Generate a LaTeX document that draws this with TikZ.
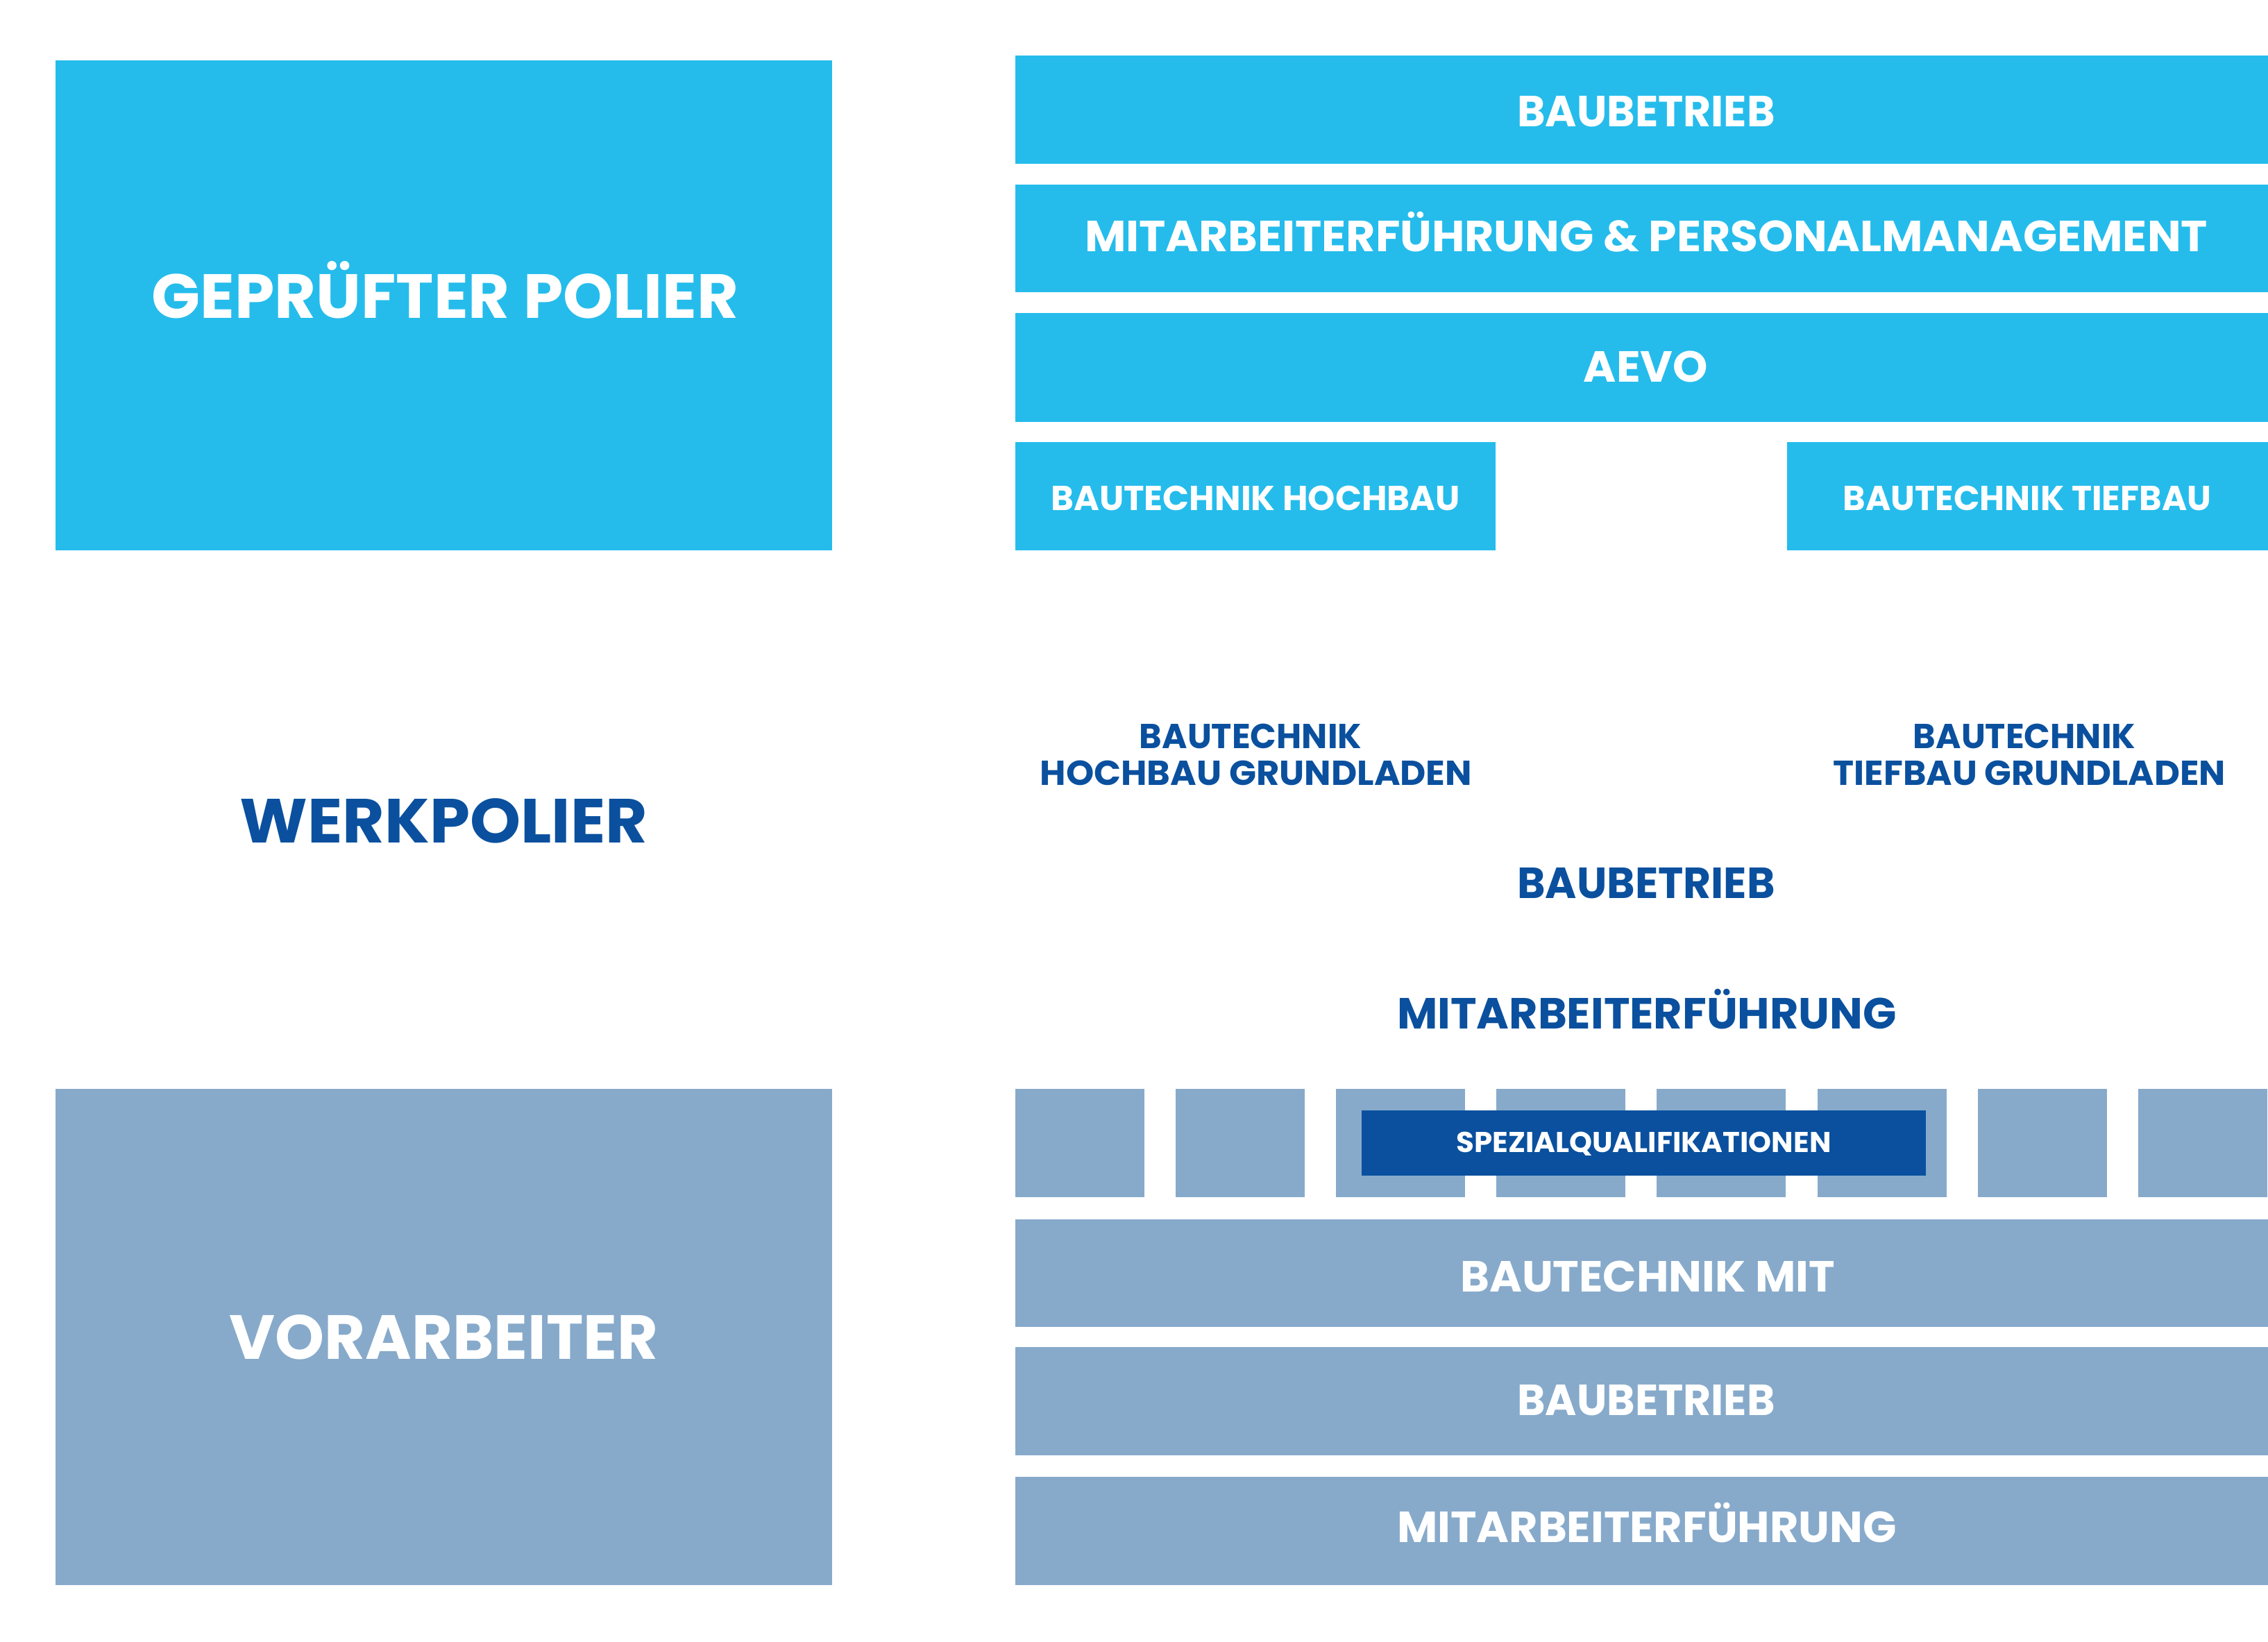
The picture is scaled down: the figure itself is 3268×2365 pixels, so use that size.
\documentclass[tikz,border=0pt]{standalone}
\usepackage{fontspec}
\usepackage{graphicx}
\newfontfamily\pop{Poppins}
\definecolor{lightblue}{RGB}{37,188,236}
\definecolor{greyblue}{RGB}{135,170,203}
\definecolor{darkblue}{RGB}{10,80,158}
\newlength\capref
\newcommand\setcap[1]{%
  \settoheight\capref{\fontsize{100pt}{100pt}\selectfont H}%
  \pgfmathsetmacro\fsz{#1*100/\capref}%
  \fontsize{\fsz pt}{\fsz pt}\selectfont}
\newcommand\T[3]{\setcap{#1}\resizebox{#2}{\height}{#3}}
\tikzset{
  lbl/.style={anchor=base,inner sep=0pt,font=\pop\bfseries},
  lightbox/.style={fill=lightblue},
  greybox/.style={fill=greyblue},
  darkbox/.style={fill=darkblue}
}
\begin{document}
\begin{tikzpicture}[x=0.01cm,y=-0.01cm]
\useasboundingbox (0,0) rectangle (3268,2365);
\fill[white] (0,0) rectangle (3268,2365);
% top left box
\fill[lightbox] (80,87) rectangle (1199,793);
% top right bars
\fill[lightbox] (1463,80) rectangle (3268,236);
\fill[lightbox] (1463,266) rectangle (3268,421);
\fill[lightbox] (1463,451) rectangle (3268,608);
\fill[lightbox] (1463,637) rectangle (2155,793);
\fill[lightbox] (2575,637) rectangle (3268,793);
% bottom left box
\fill[greybox] (80,1569) rectangle (1199,2284);
% squares
\foreach \k in {0,...,7}{
  \fill[greybox] ({1463+\k*231.1},1569) rectangle ({1463+\k*231.1+186},1724.5);
}
\fill[darkbox] (1962,1600) rectangle (2775,1694);
% bottom bars
\fill[greybox] (1463,1756.5) rectangle (3268,1912);
\fill[greybox] (1463,1941) rectangle (3268,2097);
\fill[greybox] (1463,2128) rectangle (3268,2284);
% texts
\node[lbl,text=white] (gp) at (641.5,458) {\T{17.93}{8.45cm}{GEPRÜFTER POLIER}};
\node[lbl,text=darkblue] (wp) at (639.5,1214) {\T{17.93}{5.87cm}{WERKPOLIER}};
\node[lbl,text=white] (va) at (639.5,1958) {\T{17.93}{6.17cm}{VORARBEITER}};
\node[lbl,text=white] (bb1) at (2372,182.7) {\T{12.52}{3.71cm}{BAUBETRIEB}};
\node[lbl,text=white] (mp) at (2372,362.6) {\T{12.52}{16.17cm}{MITARBEITERFÜHRUNG \& PERSONALMANAGEMENT}};
\node[lbl,text=white] (aevo) at (2371.5,550) {\T{12.52}{1.79cm}{AEVO}};
\node[lbl,text=white] (bh) at (1809,735) {\T{9.96}{5.89cm}{BAUTECHNIK HOCHBAU}};
\node[lbl,text=white] (bt) at (2921,735) {\T{9.96}{5.30cm}{BAUTECHNIK TIEFBAU}};
\node[lbl,text=darkblue] (bhg1) at (1802,1078) {\T{9.96}{3.20cm}{BAUTECHNIK}};
\node[lbl,text=darkblue] (bhg2) at (1810,1131.5) {\T{9.96}{6.22cm}{HOCHBAU GRUNDLADEN}};
\node[lbl,text=darkblue] (btg1) at (2917,1078) {\T{9.96}{3.20cm}{BAUTECHNIK}};
\node[lbl,text=darkblue] (btg2) at (2924.4,1131.5) {\T{9.96}{5.65cm}{TIEFBAU GRUNDLADEN}};
\node[lbl,text=darkblue] (bb2) at (2372,1294) {\T{12.52}{3.71cm}{BAUBETRIEB}};
\node[lbl,text=darkblue] (mf2) at (2373,1482) {\T{12.52}{7.19cm}{MITARBEITERFÜHRUNG}};
\node[lbl,text=white] (sq) at (2368.5,1660) {\T{8.25}{5.40cm}{SPEZIALQUALIFIKATIONEN}};
\node[lbl,text=white] (btm) at (2374,1861) {\T{12.52}{5.39cm}{BAUTECHNIK MIT}};
\node[lbl,text=white] (bb3) at (2372,2039) {\T{12.52}{3.71cm}{BAUBETRIEB}};
\node[lbl,text=white] (mf3) at (2373,2222) {\T{12.52}{7.19cm}{MITARBEITERFÜHRUNG}};
\end{tikzpicture}
\end{document}
